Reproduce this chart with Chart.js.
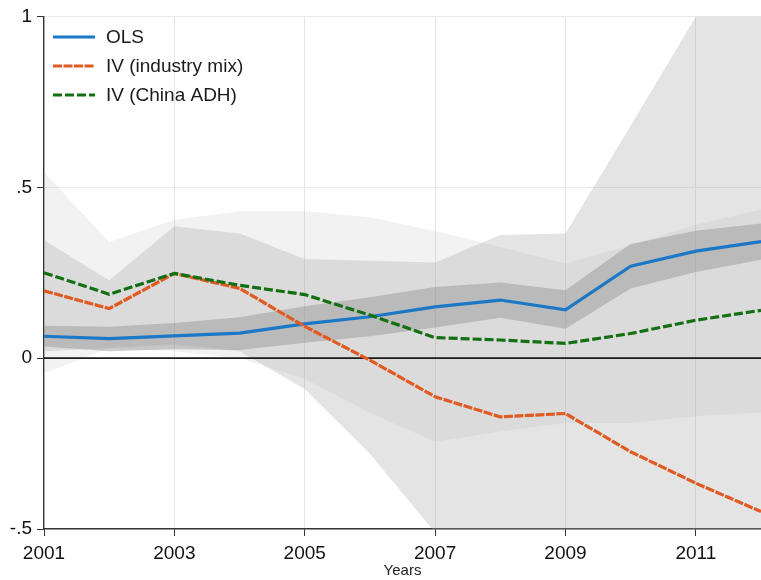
<!DOCTYPE html>
<html>
<head>
<meta charset="utf-8">
<script src="https://cdn.jsdelivr.net/npm/chart.js@4.4.1/dist/chart.umd.min.js"></script>
<style>
  html, body { margin: 0; padding: 0; background: #fff; }
  canvas { display: block; }
</style>
</head>
<body>
<canvas id="chart" width="761" height="580"></canvas>
<script>
// years and axis ticks
const years = [2001, 2002, 2003, 2004, 2005, 2006, 2007, 2008, 2009, 2010, 2011, 2012];
const xTicks = [2001, 2003, 2005, 2007, 2009, 2011];
const yTicks = [-0.5, 0, 0.5, 1];
const yTickLabels = ['-.5', '0', '.5', '1'];

// OLS estimate + CI
const ols   = [0.064, 0.057, 0.065, 0.073, 0.100, 0.121, 0.150, 0.170, 0.141, 0.269, 0.313, 0.341];
const olsLo = [0.034, 0.020, 0.026, 0.024, 0.045, 0.064, 0.090, 0.118, 0.086, 0.204, 0.252, 0.288];
const olsHi = [0.095, 0.092, 0.103, 0.120, 0.152, 0.178, 0.208, 0.221, 0.199, 0.334, 0.373, 0.394];

// IV (industry mix) + CI
const ivMix   = [0.197, 0.145, 0.248, 0.204, 0.093, -0.006, -0.113, -0.172, -0.162, -0.274, -0.366, -0.449];
const ivMixLo = [0.020, 0.030, 0.040, 0.020, -0.090, -0.280, -0.510, -0.700, -0.690, -1.230, -1.740, -2.000];
const ivMixHi = [0.345, 0.228, 0.386, 0.365, 0.290, 0.285, 0.280, 0.360, 0.365, 0.680, 1.000, 1.100];

// IV (China ADH) + CI
const ivAdh   = [0.250, 0.187, 0.248, 0.213, 0.186, 0.126, 0.060, 0.053, 0.043, 0.072, 0.111, 0.140];
const ivAdhLo = [-0.045, 0.030, 0.020, 0.000, -0.060, -0.160, -0.245, -0.215, -0.190, -0.190, -0.170, -0.158];
const ivAdhHi = [0.545, 0.340, 0.405, 0.430, 0.430, 0.412, 0.372, 0.325, 0.277, 0.330, 0.390, 0.435];

const FONT = "'Liberation Sans', Arial, Helvetica, sans-serif";
const pts = arr => arr.map((v, i) => ({ x: years[i], y: v }));

function line(label, arr, color, dash) {
  return {
    label, data: pts(arr), borderColor: color, borderWidth: 3.2,
    borderDash: dash, pointRadius: 0, tension: 0, fill: false, inLegend: true
  };
}
function bandEdge(arr, fillColor) {
  return {
    data: pts(arr), borderWidth: 0, borderColor: 'transparent', pointRadius: 0, tension: 0,
    fill: fillColor ? { target: '+1' } : false, backgroundColor: fillColor || 'transparent'
  };
}

// legend drawn inside the plot, top-left
const insideLegend = {
  id: 'insideLegend',
  afterDraw(chart) {
    const ctx = chart.ctx;
    const items = chart.data.datasets.filter(d => d.inLegend);
    const order = ['OLS', 'IV (industry mix)', 'IV (China ADH)'];
    items.sort((a, b) => order.indexOf(a.label) - order.indexOf(b.label));
    ctx.save();
    items.forEach((d, i) => {
      const y = 37 + i * 29;
      ctx.strokeStyle = d.borderColor;
      ctx.lineWidth = 3.2;
      ctx.setLineDash(d.borderDash || []);
      ctx.beginPath();
      ctx.moveTo(53, y);
      ctx.lineTo(95, y);
      ctx.stroke();
      ctx.setLineDash([]);
      ctx.fillStyle = '#1a1a1a';
      ctx.font = '19px ' + FONT;
      ctx.textBaseline = 'middle';
      ctx.fillText(d.label, 106, y + 1);
    });
    ctx.restore();
  }
};

new Chart(document.getElementById('chart'), {
  type: 'line',
  data: {
    datasets: [
      line('IV (China ADH)', ivAdh, '#137012', [9, 3]),
      line('IV (industry mix)', ivMix, '#e05a22', [9, 1.5]),
      line('OLS', ols, '#1b78c6', []),
      { data: pts(years.map(() => 0)), borderColor: '#1a1a1a', borderWidth: 1.6, pointRadius: 0, fill: false },
      bandEdge(olsHi, 'rgba(145,145,145,0.45)'),
      bandEdge(olsLo),
      bandEdge(ivAdhHi, 'rgba(170,170,170,0.15)'),
      bandEdge(ivAdhLo),
      bandEdge(ivMixHi, 'rgba(170,170,170,0.32)'),
      bandEdge(ivMixLo)
    ]
  },
  options: {
    responsive: false,
    animation: false,
    layout: { padding: { top: 16, right: 0, left: 0, bottom: 0 } },
    plugins: { legend: { display: false }, tooltip: { enabled: false } },
    scales: {
      x: {
        type: 'linear', min: 2001, max: 2012,
        afterBuildTicks: s => { s.ticks = xTicks.map(v => ({ value: v })); },
        afterFit: s => { s.height = 51; },
        ticks: {
          autoSkip: false, maxRotation: 0, padding: 6, color: '#111',
          font: { family: FONT, size: 19 },
          callback: v => String(v)
        },
        grid: {
          color: c => (c.tick && c.tick.value === 2001) ? 'transparent' : '#e4e4e4',
          tickColor: '#333', tickLength: 7, lineWidth: 1
        },
        border: { color: '#333', width: 1.4 },
        title: {
          display: true, text: 'Years', color: '#222',
          font: { family: FONT, size: 15 }, padding: { top: 0, bottom: 0 }
        }
      },
      y: {
        min: -0.5, max: 1,
        afterBuildTicks: s => { s.ticks = yTicks.map(v => ({ value: v })); },
        afterFit: s => { s.width = 44; },
        ticks: {
          padding: 5, color: '#111',
          font: { family: FONT, size: 19 },
          callback: (v, i) => yTickLabels[i]
        },
        grid: {
          color: c => (c.tick && c.tick.value > 0) ? '#eaeaea' : 'transparent',
          tickColor: '#333', tickLength: 7, lineWidth: 1
        },
        border: { color: '#333', width: 1.4 }
      }
    }
  },
  plugins: [insideLegend]
});
</script>
</body>
</html>
